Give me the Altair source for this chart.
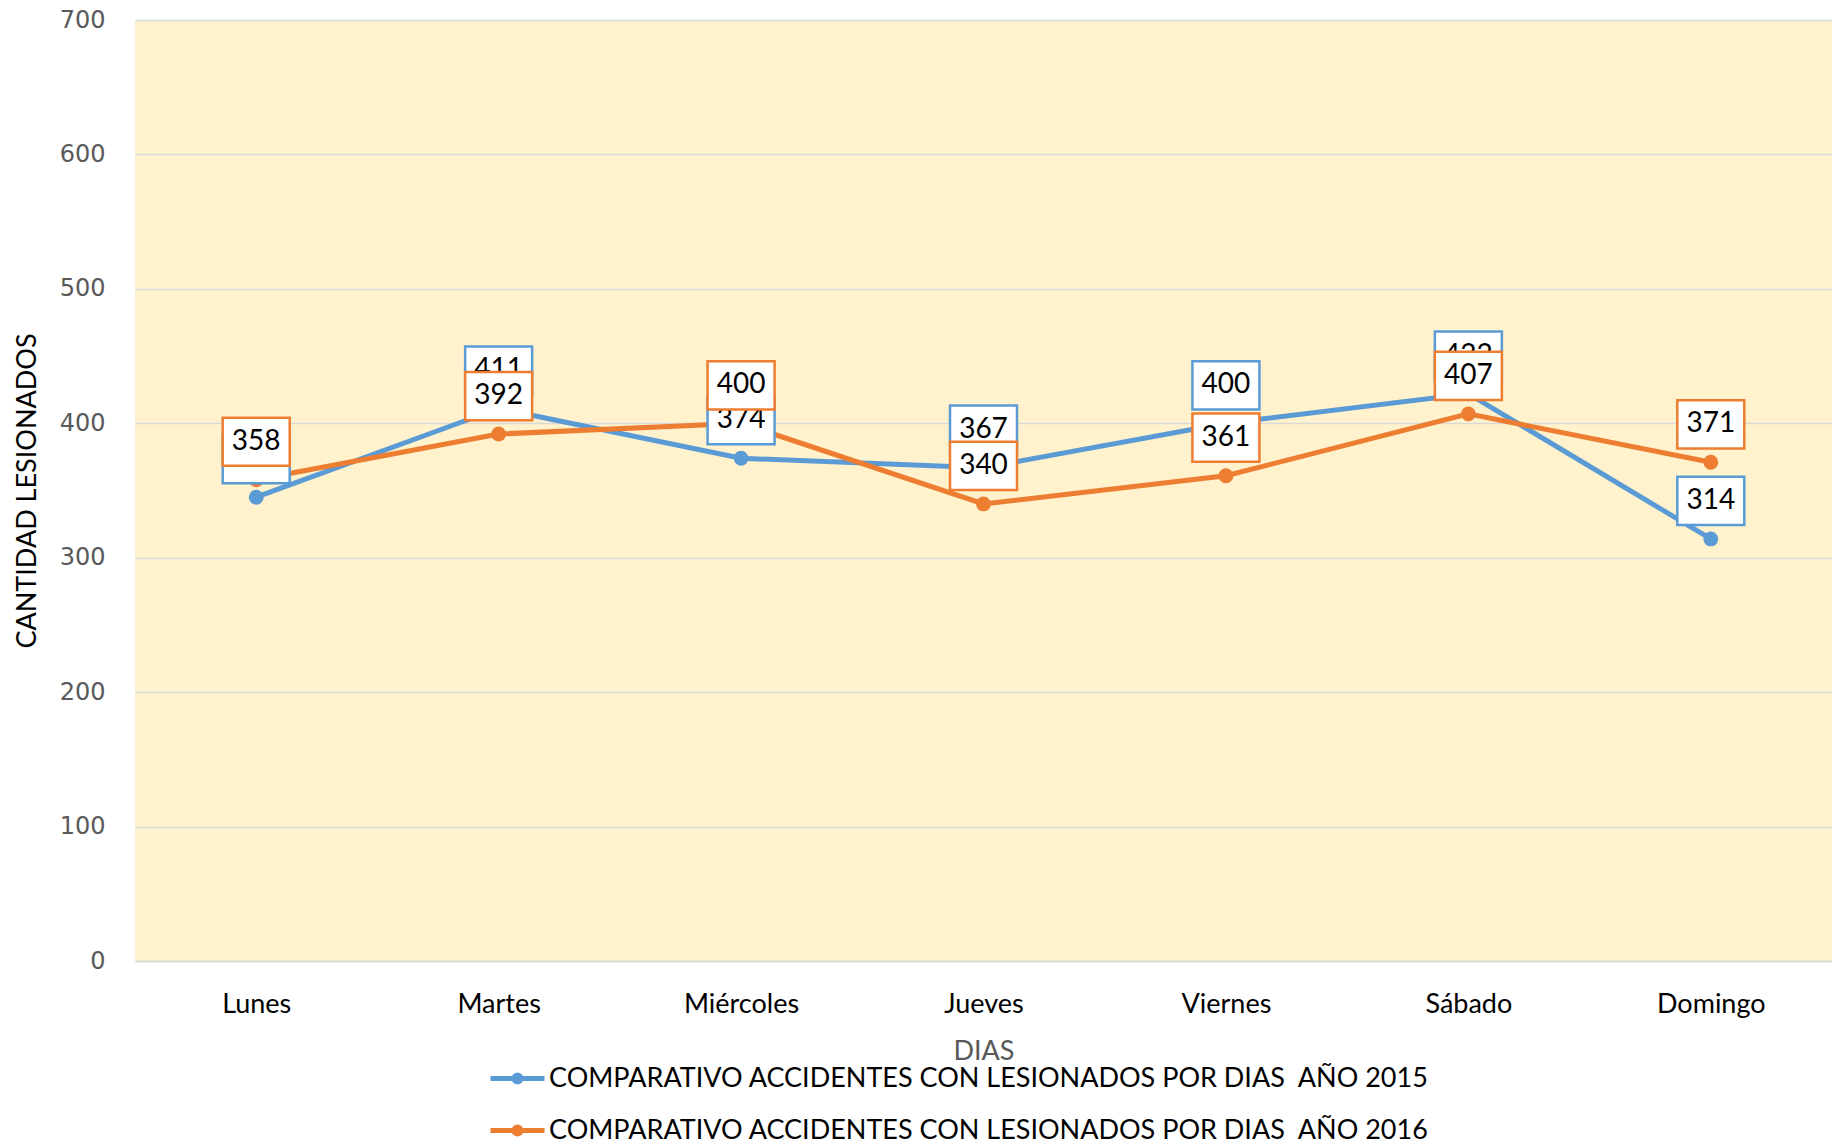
import altair as alt
import pandas as pd

dias = ["Lunes", "Martes", "Miércoles", "Jueves", "Viernes", "Sábado", "Domingo"]
v2015 = [345, 411, 374, 367, 400, 422, 314]
v2016 = [358, 392, 400, 340, 361, 407, 371]
series = [
    "COMPARATIVO ACCIDENTES CON LESIONADOS POR DIAS\u00a0 AÑO 2015",
    "COMPARATIVO ACCIDENTES CON LESIONADOS POR DIAS\u00a0 AÑO 2016",
]
colors = ["#5B9BD5", "#ED7D31"]
y_ticks = [0, 100, 200, 300, 400, 500, 600, 700]

rows = []
for d, v in zip(dias, v2015):
    rows.append({"dia": d, "valor": v, "serie": series[0]})
for d, v in zip(dias, v2016):
    rows.append({"dia": d, "valor": v, "serie": series[1]})
df = pd.DataFrame(rows)

box_path = "M-1,-0.72H1V0.72H-1Z"
legend_path = "M-1,0H1M-0.13,0A0.13,0.13,0,1,1,0.13,0A0.13,0.13,0,1,1,-0.13,0"

x = alt.X(
    "dia:N",
    sort=dias,
    scale=alt.Scale(type="point", padding=0.5),
    axis=alt.Axis(
        title="DIAS",
        titleColor="#595959",
        titleFont="Lato",
        titleFontSize=27,
        titleFontWeight="normal",
        titlePadding=21,
        labelFont="Lato",
        labelFontSize=27,
        labelColor="#000000",
        labelPadding=30,
        labelAngle=0,
        ticks=False,
        domainColor="#D9D9D9",
        domainWidth=1.5,
        grid=False,
    ),
)
y = alt.Y(
    "valor:Q",
    scale=alt.Scale(domain=[0, 700], nice=False),
    axis=alt.Axis(
        title="CANTIDAD LESIONADOS",
        titleColor="#000000",
        titleFont="Lato",
        titleFontSize=27,
        titleFontWeight="normal",
        titlePadding=18,
        values=y_ticks,
        labelFont="DejaVu Sans",
        labelFontSize=24,
        labelColor="#595959",
        labelPadding=30,
        ticks=False,
        domain=False,
        gridColor="#D9D9D9",
        gridWidth=1.5,
    ),
)
color_scale = alt.Scale(domain=series, range=colors)

base = alt.Chart(df)

lines = base.mark_line(strokeWidth=5).encode(
    x=x,
    y=y,
    color=alt.Color(
        "serie:N",
        scale=color_scale,
        legend=alt.Legend(
            title=None,
            orient="none",
            legendX=353,
            legendY=1029,
            direction="vertical",
            labelFont="Lato",
            labelFontSize=27,
            labelColor="#000000",
            labelLimit=2000,
            symbolType=legend_path,
            symbolSize=2916,
            symbolStrokeWidth=5,
            rowPadding=8,
            labelOffset=2,
        ),
    ),
)
points = base.mark_circle(size=220, opacity=1).encode(
    x=x, y=y, color=alt.Color("serie:N", scale=color_scale, legend=None)
)

layers = [lines, points]
for s, c in zip(series, colors):
    sub = base.transform_filter(alt.datum.serie == s)
    boxes = sub.mark_point(
        shape=box_path,
        size=4489,
        filled=True,
        fill="white",
        stroke=c,
        strokeWidth=2.5,
        opacity=1,
        yOffset=-38,
    ).encode(x=x, y=y)
    texts = sub.mark_text(
        font="Lato",
        fontSize=28,
        color="#000000",
        yOffset=-38,
        baseline="middle",
        align="center",
    ).encode(x=x, y=y, text="valor:Q")
    layers += [boxes, texts]

chart = (
    alt.layer(*layers)
    .properties(
        width=1697,
        height=941,
        background="white",
        padding={"left": 5, "top": 0, "right": 0, "bottom": 0},
    )
    .configure_view(fill="#FFF2CC", strokeWidth=0)
)

chart.save("out.html", embed_options={"renderer": "svg", "actions": False})
